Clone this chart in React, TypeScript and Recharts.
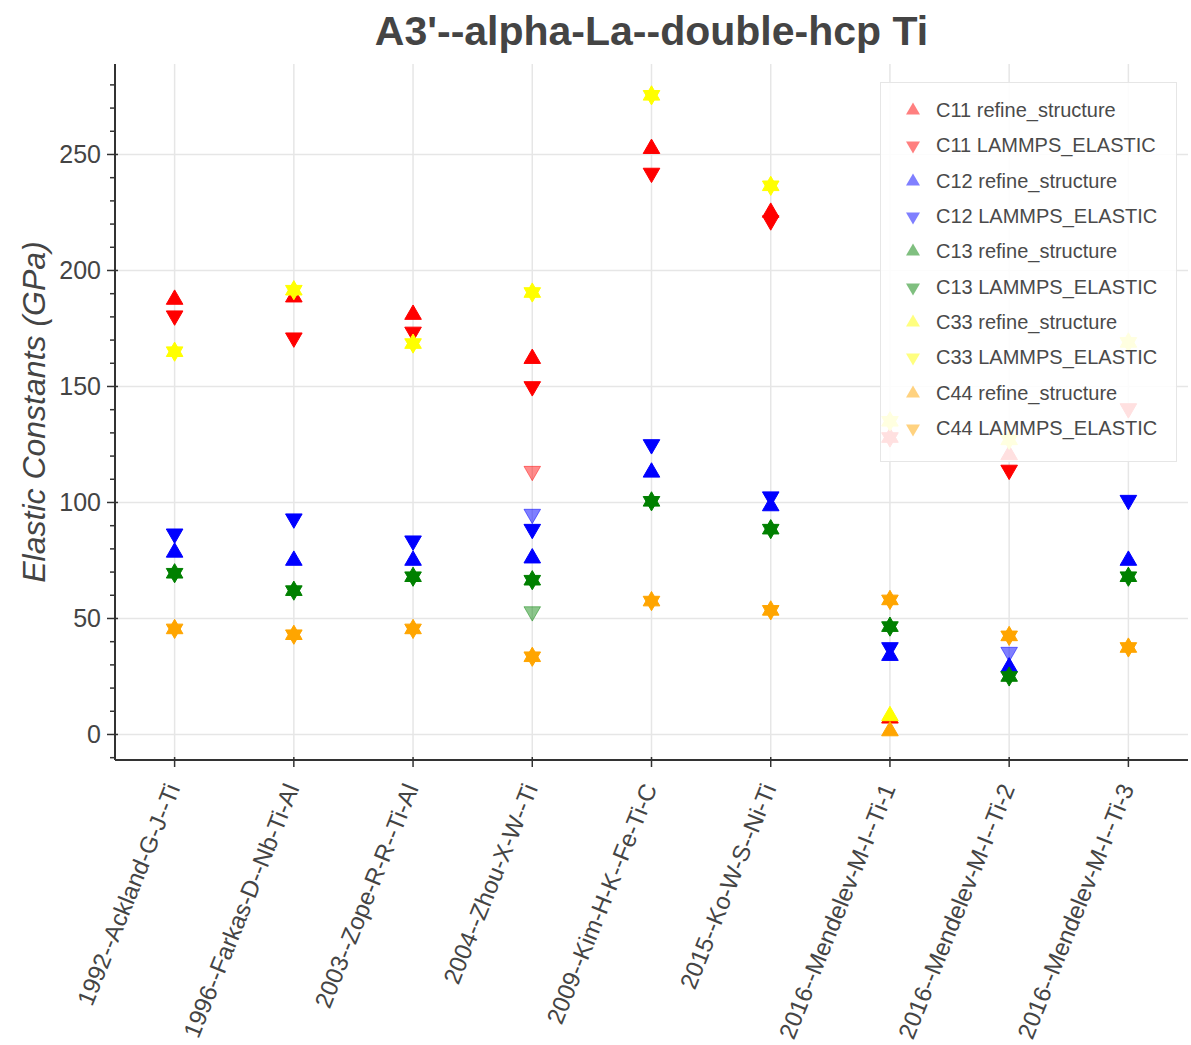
import React from "react";
import { ScatterChart, Scatter, XAxis, YAxis, CartesianGrid, Legend } from "recharts";

const potentials = [
  "1992--Ackland-G-J--Ti",
  "1996--Farkas-D--Nb-Ti-Al",
  "2003--Zope-R-R--Ti-Al",
  "2004--Zhou-X-W--Ti",
  "2009--Kim-H-K--Fe-Ti-C",
  "2015--Ko-W-S--Ni-Ti",
  "2016--Mendelev-M-I--Ti-1",
  "2016--Mendelev-M-I--Ti-2",
  "2016--Mendelev-M-I--Ti-3",
];

// one value per potential, null = no point
const c11Refine = [187.5, 188.5, 181, 162, 252.5, 225, 128, 120.5, null];
const c11Elastic = [180.5, 171, 173.5, 150, 242, 221.5, 128, 114, 140.5];
const c12Refine = [78.5, 75, 75, 76, 113, 98.5, 34, 29, 75];
const c12Elastic = [86.5, 93, 83.5, 88.5, 125, 102.5, 37.5, null, 101];
const c13Refine = [69.5, 62, 68, 66.5, 100.5, 88.5, 46.5, 25, 68];
const c13Elastic = [69.5, 62, 68, 66.5, 100.5, 88.5, 46.5, 25, 68];
const c33Refine = [165, 191.5, 168.5, 190.5, 275.5, 236.5, 135, 127, 169];
const c33Elastic = [165, 191.5, 168.5, 190.5, 275.5, 236.5, 135, 127, 169];
const c44Refine = [45.5, 43, 45.5, 33.5, 57.5, 53.5, 58, 42.5, 37.5];
const c44Elastic = [45.5, 43, 45.5, 33.5, 57.5, 53.5, 58, 42.5, 37.5];

// second refine_structure result (Ti-1)
const c11RefineAlt = [null, null, null, null, null, null, 7, null, null];
const c33RefineAlt = [null, null, null, null, null, null, 8, null, null];
const c44RefineAlt = [null, null, null, null, null, null, 1.5, null, null];
// extra LAMMPS_ELASTIC values, drawn faded
const c11ElasticAlt = [null, null, null, 113.5, null, null, null, null, null];
const c12ElasticAlt = [null, null, null, 95, null, null, null, 35.5, null];
const c13ElasticAlt = [null, null, null, 53, null, null, null, null, null];

const yTicks = [-10, 0, 10, 20, 30, 40, 50, 60, 70, 80, 90, 100, 110, 120, 130, 140, 150, 160, 170, 180, 190, 200, 210, 220, 230, 240, 250, 260, 270, 280];
const yMajor = [0, 50, 100, 150, 200, 250];
const xTicks = potentials.map((_, i) => i);

const RED = "#ff0000";
const BLUE = "#0000ff";
const GREEN = "#008000";
const YELLOW = "#ffff00";
const ORANGE = "#ffa500";
const FONT = "'Liberation Sans', Arial, Helvetica, sans-serif";

type Dir = "up" | "down";

const series: { name: string; values: (number | null)[]; color: string; dir: Dir; alpha: number; legend: boolean }[] = [
  { name: "C11 refine_structure", values: c11Refine, color: RED, dir: "up", alpha: 1, legend: true },
  { name: "c11 refine alt", values: c11RefineAlt, color: RED, dir: "up", alpha: 1, legend: false },
  { name: "C11 LAMMPS_ELASTIC", values: c11Elastic, color: RED, dir: "down", alpha: 1, legend: true },
  { name: "c11 elastic alt", values: c11ElasticAlt, color: RED, dir: "down", alpha: 0.45, legend: false },
  { name: "C12 refine_structure", values: c12Refine, color: BLUE, dir: "up", alpha: 1, legend: true },
  { name: "C12 LAMMPS_ELASTIC", values: c12Elastic, color: BLUE, dir: "down", alpha: 1, legend: true },
  { name: "c12 elastic alt", values: c12ElasticAlt, color: BLUE, dir: "down", alpha: 0.5, legend: false },
  { name: "C13 refine_structure", values: c13Refine, color: GREEN, dir: "up", alpha: 1, legend: true },
  { name: "C13 LAMMPS_ELASTIC", values: c13Elastic, color: GREEN, dir: "down", alpha: 1, legend: true },
  { name: "c13 elastic alt", values: c13ElasticAlt, color: GREEN, dir: "down", alpha: 0.45, legend: false },
  { name: "C33 refine_structure", values: c33Refine, color: YELLOW, dir: "up", alpha: 1, legend: true },
  { name: "c33 refine alt", values: c33RefineAlt, color: YELLOW, dir: "up", alpha: 1, legend: false },
  { name: "C33 LAMMPS_ELASTIC", values: c33Elastic, color: YELLOW, dir: "down", alpha: 1, legend: true },
  { name: "C44 refine_structure", values: c44Refine, color: ORANGE, dir: "up", alpha: 1, legend: true },
  { name: "c44 refine alt", values: c44RefineAlt, color: ORANGE, dir: "up", alpha: 1, legend: false },
  { name: "C44 LAMMPS_ELASTIC", values: c44Elastic, color: ORANGE, dir: "down", alpha: 1, legend: true },
];

const triPath = (cx: number, cy: number, r: number, dir: Dir) => {
  const h = r * Math.sqrt(3);
  if (dir === "up") {
    return `M${cx},${cy - (2 * h) / 3}L${cx + r},${cy + h / 3}L${cx - r},${cy + h / 3}Z`;
  }
  return `M${cx},${cy + (2 * h) / 3}L${cx + r},${cy - h / 3}L${cx - r},${cy - h / 3}Z`;
};

const makeShape = (dir: Dir, color: string, alpha: number) => (props: any) => {
  const { cx, cy } = props;
  if (cx == null || cy == null) return <g />;
  return (
    <path d={triPath(cx, cy, 8.3, dir)} fill={color} fillOpacity={alpha} stroke={color} strokeOpacity={alpha} strokeWidth={1} />
  );
};

const toPoints = (values: (number | null)[]) =>
  values.map((v, i) => (v == null ? null : { x: i, y: v })).filter(Boolean) as { x: number; y: number }[];

const YTick = (props: any) => {
  const { x, y, payload } = props;
  const v = payload.value;
  const major = v % 50 === 0;
  return (
    <g>
      <line x1={x - (major ? 8 : 5)} x2={x + (major ? 3 : 0)} y1={y} y2={y} stroke="#333" strokeWidth={1.5} />
      {major && (
        <text x={x - 14} y={y} dy="0.36em" textAnchor="end" fontSize={25} fill="#444" fontFamily={FONT}>
          {v}
        </text>
      )}
    </g>
  );
};

const XTick = (props: any) => {
  const { x, y, payload } = props;
  const tx = x + 6;
  const ty = y + 28;
  return (
    <g>
      <line x1={x} x2={x} y1={y - 3} y2={y + 7} stroke="#333" strokeWidth={1.5} />
      <text x={tx} y={ty} transform={`rotate(-68, ${tx}, ${ty})`} textAnchor="end" fontSize={24} fill="#444" fontFamily={FONT}>
        {potentials[payload.value]}
      </text>
    </g>
  );
};

const YLabel = (props: any) => {
  const vb = props.viewBox || {};
  const cy = vb.y != null ? vb.y + vb.height / 2 : 412;
  const x = 45;
  return (
    <text x={x} y={cy} transform={`rotate(-90, ${x}, ${cy})`} textAnchor="middle" fontSize={32} fontStyle="italic" fill="#444" fontFamily={FONT}>
      Elastic Constants (GPa)
    </text>
  );
};

const renderLegend = () => (
  <div
    style={{
      width: 297,
      height: 380,
      boxSizing: "border-box",
      background: "rgba(255,255,255,0.88)",
      border: "1px solid #e6e6e6",
      paddingTop: 10,
      fontFamily: FONT,
    }}
  >
    {series
      .filter((s) => s.legend)
      .map((s) => (
        <div key={s.name} style={{ height: 35.3, display: "flex", alignItems: "center" }}>
          <svg width={55} height={35} style={{ flex: "none" }}>
            <path d={triPath(32, 17.5, 7, s.dir)} fill={s.color} fillOpacity={0.5} />
          </svg>
          <span style={{ fontSize: 20, color: "#4a4a4a", whiteSpace: "nowrap" }}>{s.name}</span>
        </div>
      ))}
  </div>
);

export default function App() {
  return (
    <div style={{ position: "absolute", left: 0, top: 0, width: 1191, height: 1045, background: "#fff", fontFamily: FONT }}>
      <div
        style={{
          position: "absolute",
          left: 115,
          width: 1073,
          top: 11,
          lineHeight: "40px",
          fontSize: 41,
          fontWeight: "bold",
          textAlign: "center",
          color: "#444",
          zIndex: 2,
        }}
      >
        A3'--alpha-La--double-hcp Ti
      </div>
      <ScatterChart width={1191} height={1045} margin={{ top: 64, right: 3, bottom: 0, left: 0 }}>
        <CartesianGrid horizontalValues={yMajor} verticalValues={xTicks} stroke="#e6e6e6" strokeWidth={1.5} />
        <XAxis
          type="number"
          dataKey="x"
          domain={[-0.5, 8.5]}
          ticks={xTicks}
          interval={0}
          allowDataOverflow
          height={285}
          tickSize={0}
          tickMargin={0}
          tickLine={false}
          tick={<XTick />}
          axisLine={{ stroke: "#333", strokeWidth: 2 }}
        />
        <YAxis
          type="number"
          dataKey="y"
          domain={[-11, 289]}
          ticks={yTicks}
          interval={0}
          allowDataOverflow
          width={115}
          tickSize={0}
          tickMargin={0}
          tickLine={false}
          tick={<YTick />}
          axisLine={{ stroke: "#333", strokeWidth: 2 }}
          label={{ content: YLabel }}
        />
        {series.map((s) => (
          <Scatter
            key={s.name}
            name={s.name}
            data={toPoints(s.values)}
            shape={makeShape(s.dir, s.color, s.alpha)}
            isAnimationActive={false}
            legendType="none"
          />
        ))}
        <Legend
          layout="vertical"
          align="center"
          verticalAlign="middle"
          content={renderLegend}
          wrapperStyle={{ left: 880, top: 82, width: 297, height: 380 }}
        />
      </ScatterChart>
    </div>
  );
}
